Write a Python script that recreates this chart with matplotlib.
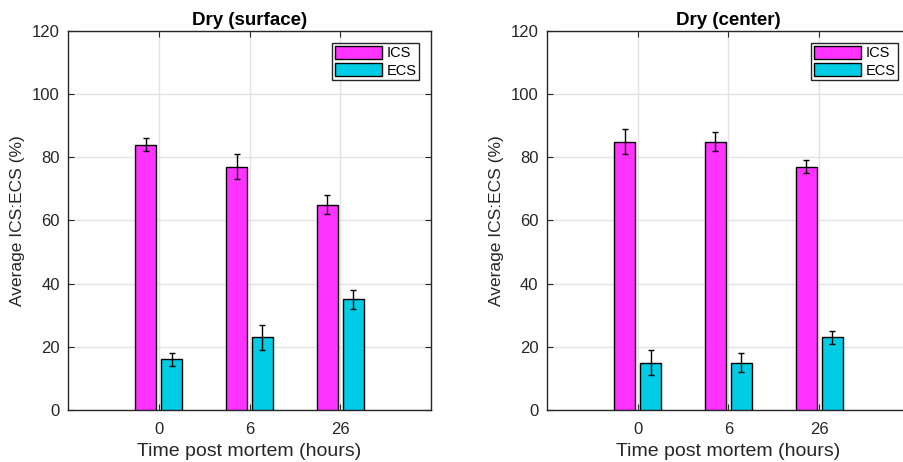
import numpy as np
import matplotlib
matplotlib.use("Agg")
import matplotlib.pyplot as plt

plt.rcParams["font.family"] = ["Liberation Sans", "DejaVu Sans"]

times = ["0", "6", "26"]
titles = ["Dry (surface)", "Dry (center)"]

ics_surface = [84, 77, 65]
ics_surface_err = [2, 4, 3]
ecs_surface = [16, 23, 35]
ecs_surface_err = [2, 4, 3]

ics_center = [85, 85, 77]
ics_center_err = [4, 3, 2]
ecs_center = [15, 15, 23]
ecs_center_err = [4, 3, 2]

col_ics = "#FF33FF"
col_ecs = "#00CCE5"
dark = "#262626"

fig = plt.figure(figsize=(9.04, 4.62), dpi=100)
ax1 = fig.add_axes([0.0752, 0.1126, 0.4016, 0.8203])
ax2 = fig.add_axes([0.6050, 0.1126, 0.4016, 0.8203])


def panel(ax, title, ics, ics_err, ecs, ecs_err):
    x = np.arange(1, len(times) + 1)
    w = 0.23
    ax.bar(x - 0.143, ics, w, color=col_ics, edgecolor="black", linewidth=1.0,
           label="ICS", zorder=3)
    ax.bar(x + 0.143, ecs, w, color=col_ecs, edgecolor="black", linewidth=1.0,
           label="ECS", zorder=3)
    ax.errorbar(x - 0.143, ics, yerr=ics_err, fmt="none", ecolor="black",
                elinewidth=1.0, capsize=2, capthick=1.0, zorder=4)
    ax.errorbar(x + 0.143, ecs, yerr=ecs_err, fmt="none", ecolor="black",
                elinewidth=1.0, capsize=2, capthick=1.0, zorder=4)
    ax.set_xlim(0, 4)
    ax.set_ylim(0, 120)
    ax.set_xticks(x)
    ax.set_xticklabels(times)
    ax.set_yticks(np.arange(0, 121, 20))
    ax.grid(True, color="#E3E3E3", linewidth=1.0, zorder=0)
    ax.set_axisbelow(True)
    ax.tick_params(direction="in", top=True, right=True, length=4,
                   labelsize=12, colors=dark, pad=6)
    ax.tick_params(axis="x", pad=9)
    for s in ax.spines.values():
        s.set_color(dark)
        s.set_linewidth(1.0)
    ax.set_title(title, fontsize=13.5, fontweight="bold", pad=4)
    ax.set_xlabel("Time post mortem (hours)", fontsize=14, color=dark,
                  labelpad=4)
    ax.set_ylabel("Average ICS:ECS (%)", fontsize=12.5, color=dark,
                  labelpad=5)
    leg = ax.legend(loc="upper right", fontsize=10.5, fancybox=False,
                    framealpha=1, edgecolor=dark, handlelength=3.2,
                    handleheight=1.0, handletextpad=0.3, borderpad=0.2,
                    labelspacing=0.2, borderaxespad=0.8)
    leg.get_frame().set_linewidth(1.0)


panel(ax1, titles[0], ics_surface, ics_surface_err, ecs_surface, ecs_surface_err)
panel(ax2, titles[1], ics_center, ics_center_err, ecs_center, ecs_center_err)

fig.savefig("out.png", dpi=100)
